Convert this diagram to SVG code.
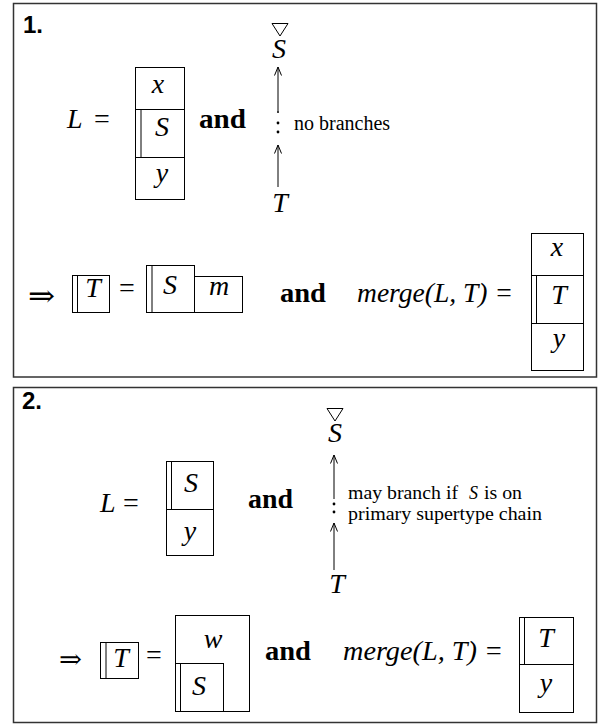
<svg xmlns="http://www.w3.org/2000/svg" width="598" height="724" viewBox="0 0 598 724">
<defs>
<marker id="ah" markerWidth="10" markerHeight="10" refX="9" refY="5" orient="auto" markerUnits="userSpaceOnUse" viewBox="0 0 10 10">
<path d="M0.5,1.5 L9,5 L0.5,8.5" fill="none" stroke="#000" stroke-width="1"/>
</marker>
<style>
.panel{fill:#fff;stroke:#333;stroke-width:1.5}
.box{fill:none;stroke:#000;stroke-width:1}
.m{font-family:"Liberation Serif",serif;font-style:italic;font-size:28px;fill:#000}
.r{font-family:"Liberation Serif",serif;font-size:28px;fill:#000}
.b{font-family:"Liberation Serif",serif;font-weight:bold;font-size:28px;fill:#000}
.s{font-family:"Liberation Serif",serif;font-size:20px;fill:#000}
.s2{font-family:"Liberation Serif",serif;font-size:18px;fill:#000}
.h{font-family:"Liberation Sans",sans-serif;font-weight:bold;font-size:24px;fill:#000}
.ar{font-family:"DejaVu Serif",serif;fill:#000}
.c{text-anchor:middle}
.ln{stroke:#000;stroke-width:1;fill:none}
</style>
</defs>
<rect class="panel" x="13.5" y="3.5" width="583" height="373.5"/>
<rect class="panel" x="13.5" y="387.5" width="583" height="335"/>

<g id="panel1">
<text class="h" x="23" y="33">1.</text>
<g id="p1-L">
<text class="m" x="67" y="128">L</text><text class="r" x="94" y="128">=</text>
</g>
<g id="p1-Lbox">
<rect class="box" x="135.5" y="67.5" width="49" height="132"/>
<line class="ln" x1="135.5" y1="109.5" x2="184.5" y2="109.5"/>
<line class="ln" x1="135.5" y1="157.5" x2="184.5" y2="157.5"/>
<line class="ln" x1="141" y1="109.5" x2="141" y2="157.5"/>
<text class="m c" x="158" y="93">x</text>
<text class="m c" x="162" y="136">S</text>
<text class="m c" x="162" y="182">y</text>
</g>
<text class="b" x="199" y="128" textLength="47" lengthAdjust="spacingAndGlyphs">and</text>
<g id="p1-S">
<polygon class="ln" points="272,23.5 288,23.5 280,36"/>
<text class="m c" x="279" y="58">S</text>
</g>
<g id="p1-T"><text class="m c" x="280" y="212">T</text></g>
<text class="s" x="294" y="130">no branches</text>
<g id="p1-rowT">
<text class="ar" x="28" y="306" font-size="30" textLength="27" lengthAdjust="spacingAndGlyphs">⇒</text>
<rect class="box" x="72.5" y="275.5" width="37" height="37"/>
<line class="ln" x1="77.5" y1="275.5" x2="77.5" y2="312.5"/>
<text class="m c" x="93" y="297">T</text>
<text class="r" x="119" y="297">=</text>
</g>
<g id="p1-Sm">
<rect class="box" x="146.5" y="265.5" width="48" height="47"/>
<line class="ln" x1="152" y1="265.5" x2="152" y2="312.5"/>
<text class="m c" x="170" y="294">S</text>
<rect class="box" x="194.5" y="276.5" width="48" height="36"/>
<text class="m c" x="219" y="295">m</text>
</g>
<text class="b" x="280" y="302" textLength="46" lengthAdjust="spacingAndGlyphs">and</text>
<text class="m" x="357" y="302" textLength="156" lengthAdjust="spacingAndGlyphs">merge(L, T) =</text>
<g id="p1-merge">
<rect class="box" x="531.5" y="233.5" width="52" height="137"/>
<line class="ln" x1="531.5" y1="275.5" x2="583.5" y2="275.5"/>
<line class="ln" x1="531.5" y1="323.5" x2="583.5" y2="323.5"/>
<line class="ln" x1="536.5" y1="275.5" x2="536.5" y2="323.5"/>
<text class="m c" x="557" y="256">x</text>
<text class="m c" x="559" y="304">T</text>
<text class="m c" x="559" y="347">y</text>
</g>
</g>

<g id="panel2">
<text class="h" x="22" y="409">2.</text>
<g id="p2-L">
<text class="m" x="100" y="512">L</text><text class="r" x="123" y="512">=</text>
</g>
<g id="p2-Lbox">
<rect class="box" x="166.5" y="461.5" width="47" height="94"/>
<line class="ln" x1="166.5" y1="509.5" x2="213.5" y2="509.5"/>
<line class="ln" x1="171.5" y1="461.5" x2="171.5" y2="509.5"/>
<text class="m c" x="191" y="492">S</text>
<text class="m c" x="190" y="540">y</text>
</g>
<text class="b" x="248" y="508" textLength="45" lengthAdjust="spacingAndGlyphs">and</text>
<g id="p2-S">
<polygon class="ln" points="327,408.5 343,408.5 335,421"/>
<text class="m c" x="335" y="442">S</text>
</g>
<g id="p2-T"><text class="m c" x="337" y="593">T</text></g>
<text class="s2" x="348" y="499" textLength="110" lengthAdjust="spacingAndGlyphs">may branch if</text>
<text class="s2" x="469" y="499" font-style="italic">S</text>
<text class="s2" x="484" y="499" textLength="38" lengthAdjust="spacingAndGlyphs">is on</text>
<text class="s2" x="348" y="520" textLength="194" lengthAdjust="spacingAndGlyphs">primary supertype chain</text>
<g id="p2-rowT">
<text class="ar" x="59" y="668" font-size="26" textLength="23" lengthAdjust="spacingAndGlyphs">⇒</text>
<rect class="box" x="100.5" y="642.5" width="38" height="36"/>
<line class="ln" x1="106" y1="642.5" x2="106" y2="678.5"/>
<text class="m c" x="121" y="667">T</text>
<text class="r" x="146" y="664">=</text>
</g>
<g id="p2-wS">
<rect class="box" x="175.5" y="615.5" width="74" height="96"/>
<rect class="box" x="175.5" y="663.5" width="48" height="48"/>
<line class="ln" x1="180.5" y1="663.5" x2="180.5" y2="711.5"/>
<text class="m c" x="213" y="648">w</text>
<text class="m c" x="199" y="695">S</text>
</g>
<text class="b" x="265" y="660" textLength="46" lengthAdjust="spacingAndGlyphs">and</text>
<text class="m" x="343" y="660" textLength="160" lengthAdjust="spacingAndGlyphs">merge(L, T) =</text>
<g id="p2-merge">
<rect class="box" x="519.5" y="617.5" width="54" height="95"/>
<line class="ln" x1="519.5" y1="664.5" x2="573.5" y2="664.5"/>
<line class="ln" x1="524.5" y1="617.5" x2="524.5" y2="664.5"/>
<text class="m c" x="546" y="647">T</text>
<text class="m c" x="546" y="692">y</text>
</g>
</g>

<g id="connectors">
<line class="ln" x1="278" y1="111" x2="278" y2="67" marker-end="url(#ah)"/>
<circle cx="278" cy="112" r="1"/>
<circle cx="278" cy="123" r="1.4"/>
<circle cx="278" cy="132" r="1.4"/>
<line class="ln" x1="278" y1="187" x2="278" y2="145" marker-end="url(#ah)"/>
<line class="ln" x1="334" y1="499" x2="334" y2="455" marker-end="url(#ah)"/>
<circle cx="334" cy="504" r="1.4"/>
<circle cx="334" cy="512" r="1.4"/>
<line class="ln" x1="334" y1="570" x2="334" y2="523" marker-end="url(#ah)"/>
</g>
</svg>
